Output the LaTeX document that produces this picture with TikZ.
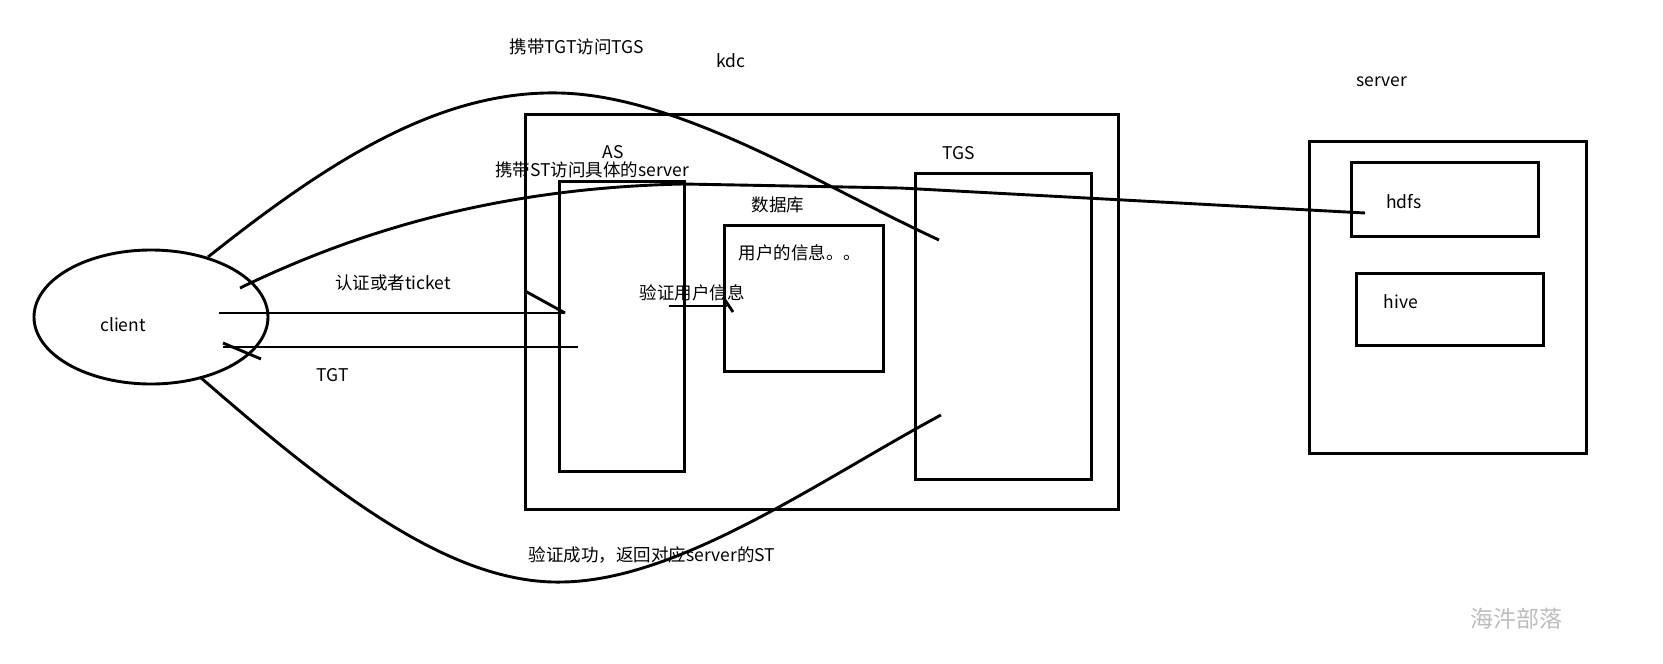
\documentclass[tikz,border=0pt]{standalone}
\usepackage{fontspec}
\setmainfont{Noto Sans CJK SC}
\usetikzlibrary{shapes.geometric}
\definecolor{ink}{HTML}{000000}
\definecolor{watermark}{HTML}{BDBDBD}
\tikzset{
  sketchbox/.style={draw=ink, line width=2.9pt, anchor=north west, inner sep=0pt},
  sketchline/.style={draw=ink, line width=2.9pt},
  lbl/.style={font=\fontsize{17.5}{20}\selectfont, inner sep=1pt},
  wmark/.style={font=\fontsize{23}{26}\selectfont, text=watermark}
}
\begin{document}
\begin{tikzpicture}[x=1pt,y=-1pt]
  \useasboundingbox[fill=white] (0,0) rectangle (1663,664);

  % boxes
  \node[sketchbox, minimum width=593pt, minimum height=395pt] (kdc) at (524,113) {};
  \node[sketchbox, minimum width=125pt, minimum height=290pt] (as) at (558,180) {};
  \node[sketchbox, minimum width=159pt, minimum height=146pt] (db) at (723,224) {};
  \node[sketchbox, minimum width=176pt, minimum height=306pt] (tgs) at (914,172) {};
  \node[sketchbox, minimum width=277pt, minimum height=312pt] (server) at (1308,140) {};
  \node[sketchbox, minimum width=187pt, minimum height=74pt] (hdfs) at (1350,161) {};
  \node[sketchbox, minimum width=187pt, minimum height=72pt] (hive) at (1355,272) {};
  \node[ellipse, draw=ink, line width=2.9pt, minimum width=234pt, minimum height=134pt] (client) at (151,317) {};

  % labels
  \node[lbl] (kdclbl) at (731,61) {kdc};
  \node[lbl] (serverlbl) at (1382,82) {server};
  \node[lbl] (aslbl) at (613,152) {AS};
  \node[lbl] (tgslbl) at (959,153) {TGS};
  \node[lbl] (dblbl) at (778,205) {数据库};
  \node[lbl] (infolbl) at (800,253) {用户的信息。。};
  \node[lbl] (hdfslbl) at (1404,202) {hdfs};
  \node[lbl] (hivelbl) at (1401,302) {hive};
  \node[lbl] (clientlbl) at (123,325) {client};
  \node[lbl] (tgtreq) at (577,47) {携带TGT访问TGS};
  \node[lbl] (streq) at (592,170) {携带ST访问具体的server};
  \node[lbl] (authlbl) at (393,283) {认证或者ticket};
  \node[lbl] (tgtlbl) at (333,375) {TGT};
  \node[lbl] (checklbl) at (692,293) {验证用户信息};
  \node[lbl] (stlbl) at (652,555) {验证成功，返回对应server的ST};
  \node[wmark] (wm) at (1516,619) {海汼部落};

  % end points
  \coordinate (tgtA) at (208,257);
  \coordinate (tgtB) at (939,240);
  \coordinate (stA) at (240,288);
  \coordinate (stB) at (1365,213);
  \coordinate (retA) at (200,377);
  \coordinate (retB) at (941,415);
  \coordinate (tkA) at (219,313);
  \coordinate (tkB) at (565,313);
  \coordinate (tkC) at (525,291);
  \coordinate (tgA) at (578,347);
  \coordinate (tgB) at (223,347);
  \coordinate (tgC) at (261,359);
  \coordinate (chA) at (669,306);
  \coordinate (chB) at (727,306);
  \coordinate (chC) at (723,297);
  \coordinate (chD) at (733,312);

  % connectors
  \draw[sketchline] (tgtA) .. controls (330,160) and (440,90) .. (560,93)
    .. controls (680,96) and (820,185) .. (tgtB);
  \draw[sketchline] (stA) .. controls (360,230) and (500,188) .. (683,184)
    -- (900,188) -- (stB);
  \draw[sketchline] (retA) .. controls (330,490) and (450,585) .. (563,582)
    .. controls (680,580) and (820,480) .. (retB);
  \draw[sketchline] (tkA) -- (tkB);
  \draw[sketchline] (tkC) -- (tkB);
  \draw[sketchline] (tgA) -- (tgB);
  \draw[sketchline] (tgB) ++(0,-4) -- (tgC);
  \draw[sketchline] (chA) -- (chB);
  \draw[sketchline] (chC) -- (chD);
\end{tikzpicture}
\end{document}
